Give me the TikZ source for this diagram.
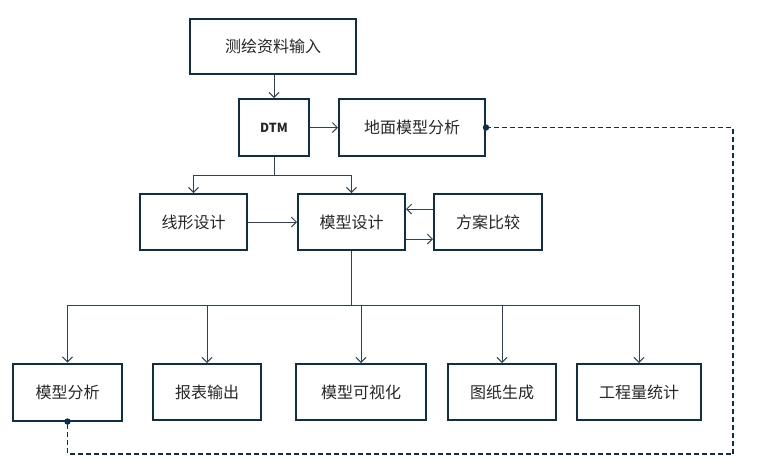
\documentclass[tikz,border=0pt]{standalone}
\usepackage{fontspec}
\setmainfont{Noto Sans CJK SC}
\usetikzlibrary{positioning,arrows.meta}

\definecolor{boxline}{HTML}{0F2F46}
\definecolor{linkline}{HTML}{2E4256}

\begin{document}
\begin{tikzpicture}[%
		x=1pt, y=-1pt,
		node distance=20pt,
		>={Straight Barb[length=5pt,width=10pt]},
		stepbox/.style={%
			draw=boxline,
			line width=2pt,
			inner sep=0pt,
			minimum width=108pt,
			minimum height=56pt,
			font=\fontsize{16}{19}\selectfont,
			text=black!85
		},
		link/.style={%
			->,
			draw=linkline,
			line width=1pt
		},
		feedback/.style={%
			draw=boxline,
			line width=1.3pt,
			dash pattern=on 5pt off 3pt
		}
		]
		\useasboundingbox (0,0) rectangle (760,467);

		% top part
		\node[stepbox, minimum width=166pt, minimum height=55pt] (input) at (273,46.5) {测绘资料输入};
		\node[stepbox, minimum width=70pt, minimum height=57pt] (dtm) at (274,127.5) {\fontsize{12.5}{14}\selectfont\bfseries DTM};
		\node[stepbox, minimum width=146pt, minimum height=57pt] (ground) [right=28pt of dtm] {地面模型分析};

		% design row
		\node[stepbox, minimum width=107pt] (route) at (193.5,222) {线形设计};
		\node[stepbox, minimum width=107pt] (design) [right=49pt of route] {模型设计};
		\node[stepbox] (compare) [right=27pt of design] {方案比较};

		% output row
		\node[stepbox, minimum width=109pt, minimum height=57pt] (manal) at (67.5,392) {模型分析};
		\node[stepbox] (report) [right=29pt of manal] {报表输出};
		\node[stepbox, minimum width=130pt] (visual) [right=33pt of report] {模型可视化};
		\node[stepbox] (drawing) [right=20pt of visual] {图纸生成};
		\node[stepbox, minimum width=124pt] (quantity) [right=19pt of drawing] {工程量统计};

		\draw[link] (dtm.north |- input.south) -- (dtm.north);
		\draw[link] (dtm.east) -- (ground.west);
		\draw[link, -] (dtm.south) -- ++(0,18) coordinate (split1);
		\draw[link] (split1) -| (route.north);
		\draw[link] (split1) -| (design.north);
		\draw[link] (route.east) -- (design.west);
		\draw[link] ([yshift=13pt]compare.west) -- ([yshift=13pt]design.east);
		\draw[link] ([yshift=-17pt]design.east) -- ([yshift=-17pt]compare.west);

		\draw[link, -] (design.south) -- ++(0,54) coordinate (split2);
		\foreach \out in {manal,report,visual,drawing,quantity}
			\draw[link] (split2) -| (\out.north);

		% feedback loop
		\coordinate (loopcorner) at (733,454);
		\draw[feedback] (ground.east) -| (loopcorner) -| (manal.south);
		\fill[boxline] (ground.east) circle (3.2pt);
		\fill[boxline] (manal.south) circle (3.2pt);
\end{tikzpicture}
\end{document}
